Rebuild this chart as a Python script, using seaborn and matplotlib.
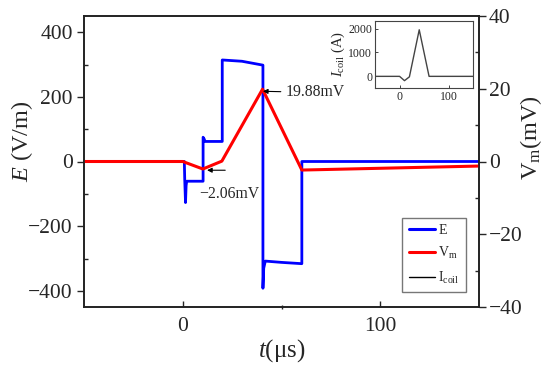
import matplotlib
matplotlib.use("Agg")
import matplotlib.pyplot as plt
import seaborn as sns
import pandas as pd
from matplotlib.lines import Line2D
from matplotlib.ticker import MultipleLocator, FixedLocator

# ---- data ----
t_E = [-50, 0.8, 1.0, 1.4, 1.7, 2.0, 10.3, 10.3, 10.8, 11.3, 20.0, 20.0, 30.0, 40.6, 40.6, 41.0, 41.8, 50.0, 60.3, 60.3, 150]
E_vals = [0, 0, -55, -127, -75, -61, -61, 75, 70, 62, 62, 314, 310, 298, -392, -330, -308, -312, -316, 0, 0]

t_V = [-50, 0, 10.2, 19.8, 40.4, 60.3, 150]
V_vals = [0, 0, -2.06, 0.1, 19.88, -2.35, -1.25]

t_I = [-50, 0, 10, 20, 40, 60, 150]
I_vals = [0, 0, -180, -20, 1950, 0, 0]

xticks = [0, 100]
yticks_E = [-400, -200, 0, 200, 400]
yticks_V = [-40, -20, 0, 20, 40]

sns.set_style("ticks")
plt.rcParams["font.family"] = ["Liberation Serif", "DejaVu Serif"]
plt.rcParams["mathtext.fontset"] = "custom"
plt.rcParams["mathtext.rm"] = "Liberation Serif"
plt.rcParams["mathtext.it"] = "Liberation Serif:italic"

dfE = pd.DataFrame({"t": t_E, "E": E_vals})
dfV = pd.DataFrame({"t": t_V, "V": V_vals})
dfI = pd.DataFrame({"t": t_I, "I": I_vals})

fig = plt.figure(figsize=(5.5, 3.66), dpi=100)
ax = fig.add_axes([84/550, 1-307/366, 395/550, 291/366])
sns.lineplot(data=dfE, x="t", y="E", ax=ax, estimator=None, sort=False,
             color="#0000ff", lw=2.0)
ax.set_xlim(-50, 150)
ax.set_ylim(-450, 450)
ax.set_xticks(xticks)
ax.xaxis.set_minor_locator(FixedLocator([50]))
ax.set_yticks(yticks_E)
ax.yaxis.set_minor_locator(MultipleLocator(100))
ax.set_xlabel("$t$(μs)", fontsize=18, labelpad=1)
ax.set_ylabel("$E$ (V/m)", fontsize=17.5)
ax.yaxis.set_label_coords(-0.124, 0.57)
ax.tick_params(axis="y", which="major", direction="out", length=5, width=1, labelsize=15.5, pad=3)
ax.tick_params(axis="y", which="minor", direction="in", length=3, width=1)
ax.tick_params(axis="x", which="major", direction="in", length=4, width=1, labelsize=15.5, pad=7)
ax.tick_params(axis="x", which="minor", direction="inout", length=3, width=1)
for s in ax.spines.values():
    s.set_linewidth(1.2)
    s.set_color("#222222")

ax2 = ax.twinx()
sns.lineplot(data=dfV, x="t", y="V", ax=ax2, estimator=None, sort=False,
             color="#ff0000", lw=2.2)
ax2.set_ylim(-40, 40)
ax2.set_yticks(yticks_V)
ax2.yaxis.set_minor_locator(MultipleLocator(10))
ax2.set_ylabel("V$_\\mathrm{m}$(mV)", fontsize=17.5)
ax2.yaxis.set_label_coords(1.099, 0.584)
ax2.tick_params(axis="y", which="major", direction="out", length=5, width=1, labelsize=15.5, pad=2)
ax2.tick_params(axis="y", which="minor", direction="in", length=3, width=1)
for s in ax2.spines.values():
    s.set_linewidth(1.2)
    s.set_color("#222222")

ax2.annotate("19.88mV", xy=(40.6, 19.3), xytext=(52, 19.0), fontsize=11.3,
             ha="left", va="center",
             arrowprops=dict(arrowstyle="-|>", color="black", lw=0.8,
                             mutation_scale=7, shrinkA=1, shrinkB=0))
ax2.annotate("", xy=(12.3, -2.4), xytext=(21.5, -2.4),
             arrowprops=dict(arrowstyle="-|>", color="black", lw=0.8,
                             mutation_scale=7, shrinkA=0, shrinkB=0))
ax2.text(8.5, -8.9, "\u22122.06mV", fontsize=11.3, ha="left", va="center")

handles = [Line2D([], [], color="#0000ff", lw=2.2),
           Line2D([], [], color="#ff0000", lw=2.2),
           Line2D([], [], color="black", lw=1.0)]
labels = ["E", "V$_\\mathrm{m}$", "I$_\\mathrm{coil}$"]
leg = ax2.legend(handles, labels, loc="lower right", bbox_to_anchor=(0.967, 0.052),
                 fontsize=10, frameon=True, fancybox=False, handlelength=1.9,
                 handletextpad=0.25, borderpad=0.45, labelspacing=0.6,
                 borderaxespad=0)
leg.get_frame().set_edgecolor("#555555")
leg.get_frame().set_linewidth(1.0)

axin = fig.add_axes([375/550, 1-88.3/366, 98.3/550, 67.6/366])
sns.lineplot(data=dfI, x="t", y="I", ax=axin, estimator=None, sort=False,
             color="#444444", lw=1.0)
axin.set_xlim(-50, 150)
axin.set_ylim(-500, 2330)
axin.set_xticks([0, 100])
axin.set_yticks([0, 1000, 2000])
axin.set_xlabel("")
axin.set_ylabel("$I_\\mathrm{coil}$ (A)", fontsize=10.5, labelpad=1)
axin.tick_params(which="major", direction="in", length=2, width=0.6, labelsize=8.5, pad=2)
for s in axin.spines.values():
    s.set_linewidth(0.8)
    s.set_color("#444444")

fig.savefig("out.png", dpi=100)
